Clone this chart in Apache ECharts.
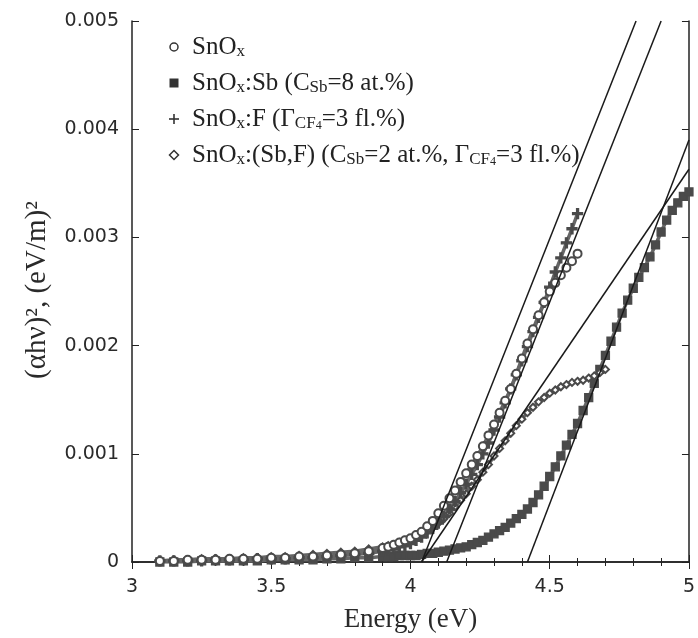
<!DOCTYPE html>
<html lang="en">
<head>
<meta charset="UTF-8">
<title>Tauc plot</title>
<script src="https://cdn.jsdelivr.net/npm/echarts/dist/echarts.min.js"></script>
<style>
	html,body{margin:0;height:100%;background:#fff;}
</style>
</head>
<body>
<div id="chart" style="width:698px;height:638px;"></div>
<script>
// photon energy, eV (tail every 0.05, then every 0.02)
var energy = [3.10,3.15,3.20,3.25,3.30,3.35,3.40,3.45,3.50,3.55,3.60,3.65,3.70,3.75,3.80,3.85,
	3.90,3.92,3.94,3.96,3.98,4.00,4.02,4.04,4.06,4.08,4.10,4.12,4.14,4.16,4.18,4.20,4.22,4.24,4.26,4.28,
	4.30,4.32,4.34,4.36,4.38,4.40,4.42,4.44,4.46,4.48,4.50,4.52,4.54,4.56,4.58,4.60,4.62,4.64,4.66,4.68,
	4.70,4.72,4.74,4.76,4.78,4.80,4.82,4.84,4.86,4.88,4.90,4.92,4.94,4.96,4.98,5.00];

// (alpha h nu)^2 for each film, starting at energy[0]
var snox = [0.00001,0.00001,0.00002,0.00002,0.00002,0.00003,0.00003,0.00003,0.00004,0.00004,0.00005,0.00005,0.00006,0.00007,0.00008,0.00010,
	0.00013,0.00014,0.00016,0.00018,0.00020,0.00022,0.00025,0.00028,0.00033,0.00038,0.00045,0.00052,0.00059,0.00066,0.00074,0.00082,
	0.00090,0.00098,0.00107,0.00117,0.00127,0.00138,0.00149,0.00160,0.00174,0.00188,0.00202,0.00215,0.00228,0.00240,0.00250,0.00258,
	0.00265,0.00272,0.00278,0.00285];
var snoxSb = [0,0,0,0.00001,0.00001,0.00001,0.00001,0.00001,0.00002,0.00002,0.00002,0.00002,0.00003,0.00003,0.00004,0.00004,
	0.00005,0.00005,0.00005,0.00006,0.00006,0.00006,0.00006,0.00007,0.00008,0.00008,0.00009,0.00010,0.00011,0.00012,0.00013,0.00014,
	0.00016,0.00018,0.00020,0.00023,0.00026,0.00029,0.00032,0.00036,0.00040,0.00044,0.00049,0.00055,0.00062,0.00070,0.00079,0.00088,
	0.00098,0.00108,0.00118,0.00128,0.00140,0.00152,0.00165,0.00178,0.00191,0.00204,0.00217,0.00230,0.00242,0.00253,0.00263,0.00272,
	0.00282,0.00293,0.00305,0.00316,0.00325,0.00332,0.00338,0.00342];
var snoxF = [0.00001,0.00001,0.00001,0.00001,0.00002,0.00002,0.00002,0.00003,0.00003,0.00003,0.00004,0.00004,0.00005,0.00006,0.00007,0.00008,
	0.00010,0.00011,0.00012,0.00014,0.00015,0.00017,0.00020,0.00023,0.00027,0.00031,0.00036,0.00042,0.00049,0.00056,0.00064,0.00072,
	0.00081,0.00090,0.00100,0.00110,0.00122,0.00134,0.00147,0.00160,0.00173,0.00186,0.00199,0.00213,0.00226,0.00240,0.00254,0.00268,
	0.00281,0.00295,0.00308,0.00322];
var snoxSbF = [0.00001,0.00002,0.00002,0.00003,0.00003,0.00003,0.00004,0.00004,0.00005,0.00005,0.00006,0.00007,0.00008,0.00009,0.00010,0.00012,
	0.00014,0.00015,0.00016,0.00018,0.00020,0.00021,0.00023,0.00026,0.00029,0.00032,0.00036,0.00040,0.00045,0.00051,0.00057,0.00063,
	0.00070,0.00076,0.00083,0.00090,0.00098,0.00105,0.00112,0.00119,0.00126,0.00132,0.00138,0.00143,0.00148,0.00152,0.00156,0.00159,
	0.00162,0.00164,0.00166,0.00167,0.00168,0.00170,0.00172,0.00175,0.00178];

// straight-line extrapolations: [E, value] end points
var fitSnox = [[4.04,0],[4.81,0.005]];
var fitF = [[4.13,0],[4.90,0.005]];
var fitSbF = [[4.04,0],[5.00,0.00363]];
var fitSb = [[4.42,0],[5.00,0.0039]];

var xTicks = ['3','3.5','4','4.5','5'];
var yTicks = ['0','0.001','0.002','0.003','0.004','0.005'];

function pairs(vals){
	return vals.map(function(v,i){ return [energy[i], v]; });
}

var ink = '#4a4a4a';
var serif = '"Liberation Serif", "Times New Roman", serif';
var sans = '"DejaVu Sans", Verdana, sans-serif';

function dataSeries(vals, symbol, size, fill){
	return {
		type: 'line',
		data: pairs(vals),
		symbol: symbol,
		symbolSize: size,
		showAllSymbol: true,
		itemStyle: {color: fill, borderColor: ink, borderWidth: 1.3},
		lineStyle: {color: '#666', width: 3.5},
		silent: true,
		z: 2
	};
}
function fitSeries(pts){
	return {
		type: 'line',
		data: pts,
		symbol: 'none',
		lineStyle: {color: '#1a1a1a', width: 1.5},
		silent: true,
		z: 5
	};
}

var rich = {
	s: {fontSize: 17, fontFamily: serif, verticalAlign: 'bottom', lineHeight: 18},
	ss: {fontSize: 12, fontFamily: serif, verticalAlign: 'bottom', lineHeight: 12}
};
var legendText = [
	'SnO{s|x}',
	'SnO{s|x}:Sb (C{s|Sb}=8 at.%)',
	'SnO{s|x}:F (Γ{s|CF}{ss|4}=3 fl.%)',
	'SnO{s|x}:(Sb,F) (C{s|Sb}=2 at.%, Γ{s|CF}{ss|4}=3 fl.%)'
];
var legendY = [47, 83, 119, 155];

function legendItems(){
	var items = [];
	var sx = 174;
	items.push({type:'circle', shape:{cx:sx, cy:legendY[0], r:4}, style:{fill:'#fff', stroke:'#333', lineWidth:1.5}});
	items.push({type:'rect', shape:{x:sx-4.5, y:legendY[1]-4.5, width:9, height:9}, style:{fill:'#333'}});
	items.push({type:'line', shape:{x1:sx-5, y1:legendY[2], x2:sx+5, y2:legendY[2]}, style:{stroke:'#333', lineWidth:1.6}});
	items.push({type:'line', shape:{x1:sx, y1:legendY[2]-5, x2:sx, y2:legendY[2]+5}, style:{stroke:'#333', lineWidth:1.6}});
	items.push({type:'polygon', shape:{points:[[sx,legendY[3]-4.5],[sx+4.5,legendY[3]],[sx,legendY[3]+4.5],[sx-4.5,legendY[3]]]}, style:{fill:'#fff', stroke:'#333', lineWidth:1.5}});
	for (var i = 0; i < legendText.length; i++) {
		items.push({
			type: 'text', x: 192, y: legendY[i],
			style: {text: legendText[i], rich: rich, fontSize: 25, fontFamily: serif, lineHeight: 26,
				fill: '#222', verticalAlign: 'middle', align: 'left'}
		});
	}
	return items;
}

var axisLine = {show: true, lineStyle: {color: '#222', width: 1.5}};

var option = {
	animation: false,
	backgroundColor: '#fff',
	grid: {left: 132, right: 3, top: 21, bottom: 75},
	xAxis: [{
		type: 'value', min: 3, max: 5, interval: 0.5, position: 'bottom',
		axisLine: axisLine,
		axisTick: {inside: true, length: 7, lineStyle: {color: '#222'}},
		minorTick: {show: true, splitNumber: 5, length: 4, lineStyle: {color: '#222'}},
		splitLine: {show: false},
		axisLabel: {fontSize: 19, fontFamily: sans, color: '#2a2a2a', margin: 16,
			formatter: function(v){ return xTicks[Math.round((v-3)/0.5)]; }},
		name: 'Energy (eV)', nameLocation: 'middle', nameGap: 44,
		nameTextStyle: {fontSize: 27, fontFamily: serif, color: '#2a2a2a'}
	},{
		type: 'value', min: 3, max: 5, interval: 0.5, position: 'top',
		axisLine: axisLine,
		axisTick: {inside: true, length: 7, lineStyle: {color: '#222'}},
		minorTick: {show: true, splitNumber: 5, length: 4, lineStyle: {color: '#222'}},
		splitLine: {show: false},
		axisLabel: {show: false}
	}],
	yAxis: [{
		type: 'value', min: 0, max: 0.005, interval: 0.001, position: 'left',
		axisLine: axisLine,
		axisTick: {inside: true, length: 7, lineStyle: {color: '#222'}},
		splitLine: {show: false},
		axisLabel: {fontSize: 19, fontFamily: sans, color: '#2a2a2a', margin: 13,
			formatter: function(v){ return yTicks[Math.round(v/0.001)]; }}
	},{
		type: 'value', min: 0, max: 0.005, interval: 0.001, position: 'right',
		axisLine: axisLine,
		axisTick: {inside: true, length: 7, lineStyle: {color: '#222'}},
		splitLine: {show: false},
		axisLabel: {show: false}
	}],
	graphic: legendItems().concat([{
		type: 'text', x: 37, y: 290, rotation: Math.PI/2,
		style: {text: '(αhν)², (eV/m)²', fontSize: 29, fontFamily: serif, fill: '#2a2a2a',
			align: 'center', verticalAlign: 'middle'}
	}]),
	series: [
		dataSeries(snoxSb, 'rect', 8, ink),
		dataSeries(snoxSbF, 'emptyDiamond', 7, ink),
		dataSeries(snoxF, 'path://M4,0h2v4h4v2h-4v4h-2v-4h-4v-2h4z', 10, ink),
		dataSeries(snox, 'emptyCircle', 8, ink),
		fitSeries(fitSnox),
		fitSeries(fitF),
		fitSeries(fitSbF),
		fitSeries(fitSb)
	]
};

var myChart = echarts.init(document.getElementById('chart'));
myChart.setOption(option);
</script>
</body>
</html>
